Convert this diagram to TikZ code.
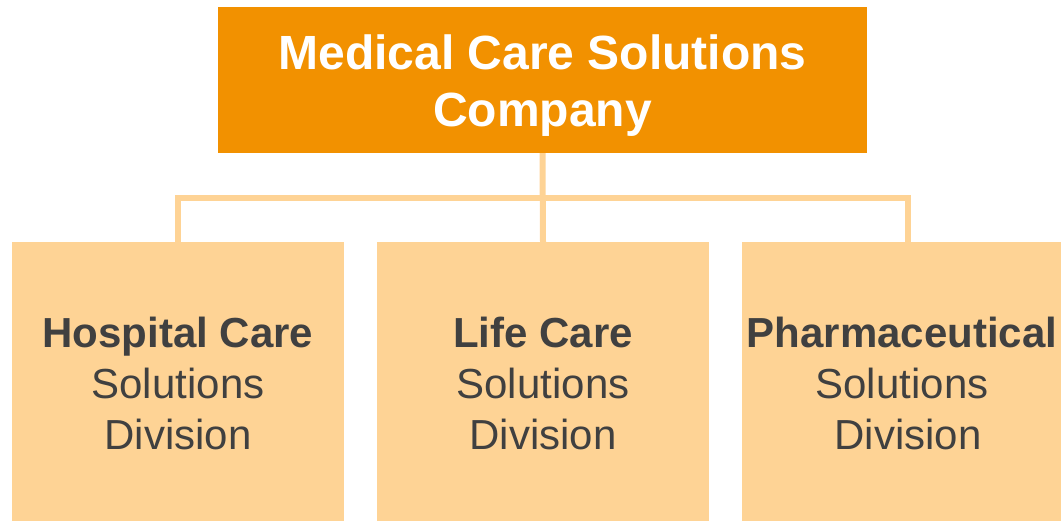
\documentclass[tikz,border=0pt]{standalone}
\usepackage{fontspec}
\setmainfont{Liberation Sans}
\definecolor{topor}{HTML}{F29100}
\definecolor{lightor}{HTML}{FED395}
\definecolor{txtgray}{HTML}{404040}
\begin{document}
\begin{tikzpicture}[x=1pt,y=1pt,
  topbox/.style={fill=topor,minimum width=649pt,minimum height=146pt,inner sep=0pt},
  toptext/.style={text=white,align=center,inner sep=0pt,font=\fontsize{48}{57}\selectfont\bfseries},
  divbox/.style={fill=lightor,text=txtgray,minimum width=332pt,minimum height=282pt,inner sep=0pt,align=center,
    font=\fontsize{42}{51}\selectfont},
  conn/.style={draw=lightor,line width=6pt}]
\useasboundingbox (0,0) rectangle (1061,-521);
\clip (0,0) rectangle (1061,-521);
\node[topbox] (top) at (542.5,-80) {};
\node[toptext] (toptxt) at (542.5,-86) {Medical Care Solutions\\Company};
\node[divbox,anchor=north] (b1) at (178,-242) {\textbf{Hospital Care}\\Solutions\\Division};
\node[divbox,anchor=north] (b2) at (543,-242) {\textbf{Life Care}\\Solutions\\Division};
\node[divbox,anchor=north] (b3) at (908,-242) {};
\node[text=txtgray,align=center,font=\fontsize{42}{51}\selectfont] (b3t) at (902,-383) {\textbf{Pharmaceutical}\\Solutions\\\hspace*{12pt}Division};
\coordinate (bus) at (543,-198);
\draw[conn] (top.south) -- (b2.north);
\draw[conn] (bus) -| (b1.north);
\draw[conn] (bus) -| (b3.north);
\end{tikzpicture}
\end{document}
